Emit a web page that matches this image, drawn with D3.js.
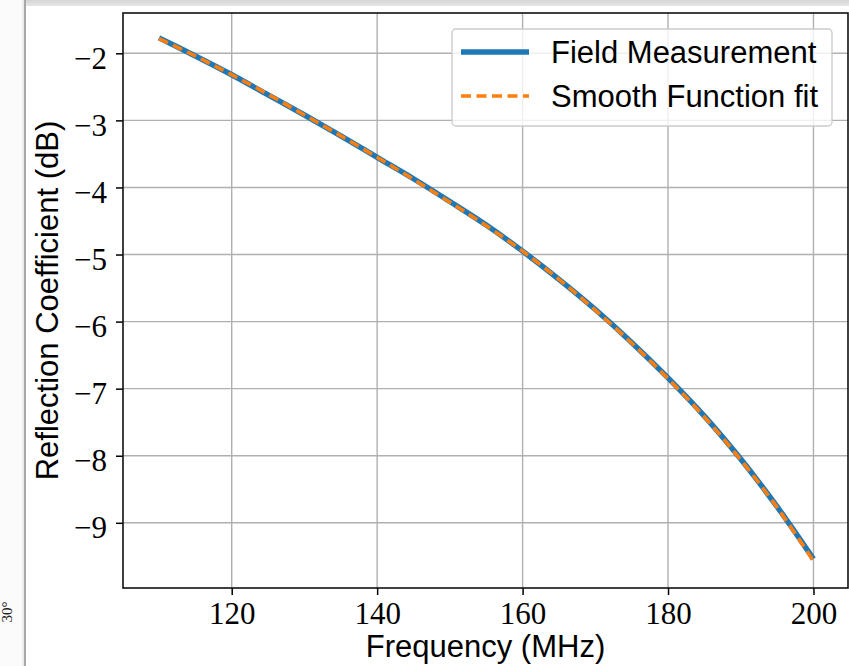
<!DOCTYPE html>
<html>
<head>
<meta charset="utf-8">
<script src="https://cdn.jsdelivr.net/npm/d3@7"></script>
<style>
  body { margin: 0; background: #fff; }
  svg { display: block; }
</style>
</head>
<body>
<script>
// frequency in MHz, reflection coefficient in dB
const freq = [110, 115, 120, 125, 130, 135, 140, 145, 150, 155, 160, 165, 170, 175, 180, 185, 190, 195, 200]
const measured = [-1.77, -2.04, -2.32, -2.62, -2.92, -3.23, -3.55, -3.87, -4.21, -4.56, -4.95, -5.37, -5.82, -6.31, -6.84, -7.41, -8.05, -8.76, -9.54]
const fitted = [-1.78, -2.04, -2.32, -2.61, -2.92, -3.23, -3.55, -3.88, -4.22, -4.57, -4.95, -5.37, -5.83, -6.32, -6.85, -7.42, -8.06, -8.77, -9.57]
const xTicks = [120, 140, 160, 180, 200]
const yTicks = [-9, -8, -7, -6, -5, -4, -3, -2]
const seriesNames = ['Field Measurement', 'Smooth Function fit']

let width = 849, height = 666
let plotLeft = 123, plotRight = 848, plotTop = 13, plotBottom = 588

let x = d3.scaleLinear().domain([105.05, 204.75]).range([plotLeft, plotRight])
let y = d3.scaleLinear().domain([-9.972, -1.399]).range([plotBottom, plotTop])

let svg = d3.select('body').append('svg')
  .attr('width', width)
  .attr('height', height)

// screenshot chrome around the figure
svg.append('rect').attr('width', width).attr('height', height).attr('fill', '#fff')
let grad = svg.append('defs').append('linearGradient').attr('id', 'topbar')
  .attr('x1', 0).attr('y1', 0).attr('x2', 0).attr('y2', 1)
grad.append('stop').attr('offset', 0).attr('stop-color', '#d4d4d4')
grad.append('stop').attr('offset', 1).attr('stop-color', '#e6e6e6')
svg.append('rect').attr('x', 26).attr('y', 0).attr('width', width - 26).attr('height', 6).attr('fill', 'url(#topbar)')
svg.append('rect').attr('x', 0).attr('y', 0).attr('width', 24).attr('height', height).attr('fill', '#fbfbfb')
svg.append('rect').attr('x', 24).attr('y', 0).attr('width', 2).attr('height', height).attr('fill', '#a8a8a8')
svg.append('rect').attr('x', 22).attr('y', 0).attr('width', 2).attr('height', height).attr('fill', '#ececec')
svg.append('text')
  .attr('transform', 'translate(12,612) rotate(-90)')
  .attr('text-anchor', 'middle')
  .attr('font-family', 'Liberation Serif')
  .attr('font-size', 15)
  .attr('fill', '#222')
  .text('30°')

// grid
let grid = svg.append('g').attr('stroke', '#b0b0b0').attr('stroke-width', 1.4)
grid.selectAll('.gx').data(xTicks).enter().append('line')
  .attr('x1', d => x(d)).attr('x2', d => x(d))
  .attr('y1', plotTop).attr('y2', plotBottom)
grid.selectAll('.gy').data(yTicks).enter().append('line')
  .attr('x1', plotLeft).attr('x2', plotRight)
  .attr('y1', d => y(d)).attr('y2', d => y(d))

// lines
let line = d3.line().curve(d3.curveCatmullRom.alpha(0.5))
  .x((d, i) => x(freq[i]))
  .y(d => y(d))

svg.append('path')
  .datum(measured)
  .attr('d', line)
  .attr('fill', 'none')
  .attr('stroke', '#1f77b4')
  .attr('stroke-width', 5.5)

svg.append('path')
  .datum(fitted)
  .attr('d', line)
  .attr('fill', 'none')
  .attr('stroke', '#ff7f0e')
  .attr('stroke-width', 3.6)
  .attr('stroke-dasharray', '10,5.5')

// axes
let xAxis = svg.append('g')
  .attr('transform', 'translate(0,' + plotBottom + ')')
  .call(d3.axisBottom(x).tickValues(xTicks).tickSize(7).tickPadding(7).tickFormat(d3.format('d')))
let yAxis = svg.append('g')
  .attr('transform', 'translate(' + plotLeft + ',0)')
  .call(d3.axisLeft(y).tickValues(yTicks).tickSize(7).tickPadding(9).tickFormat(d => '\u2212' + Math.abs(d)))

for (let ax of [xAxis, yAxis]) {
  ax.select('.domain').remove()
  ax.selectAll('.tick line').attr('stroke', '#000').attr('stroke-width', 1.5)
  ax.selectAll('.tick text')
    .attr('font-family', 'Liberation Serif, DejaVu Serif, serif')
    .attr('font-size', 31)
    .attr('fill', '#000')
}
xAxis.selectAll('.tick text').attr('dy', '0.7em')
yAxis.selectAll('.tick text').attr('dy', '0.48em')

// frame
svg.append('rect')
  .attr('x', plotLeft).attr('y', plotTop)
  .attr('width', plotRight - plotLeft).attr('height', plotBottom - plotTop)
  .attr('fill', 'none')
  .attr('stroke', '#111')
  .attr('stroke-width', 1.6)

// axis labels
svg.append('text')
  .attr('x', (plotLeft + plotRight) / 2)
  .attr('y', 657)
  .attr('text-anchor', 'middle')
  .attr('font-family', 'Liberation Sans, Arial, sans-serif')
  .attr('font-size', 31)
  .text('Frequency (MHz)')

svg.append('text')
  .attr('transform', 'translate(58,' + (plotTop + plotBottom) / 2 + ') rotate(-90)')
  .attr('text-anchor', 'middle')
  .attr('font-family', 'Liberation Sans, Arial, sans-serif')
  .attr('font-size', 31)
  .text('Reflection Coefficient (dB)')

// legend
let legend = svg.append('g')
legend.append('rect')
  .attr('x', 452).attr('y', 29)
  .attr('width', 380).attr('height', 97)
  .attr('rx', 4)
  .attr('fill', '#fff').attr('fill-opacity', 0.8)
  .attr('stroke', '#cccccc').attr('stroke-width', 1.4)

let styles = [
  {color: '#1f77b4', width: 5.5, dash: null},
  {color: '#ff7f0e', width: 3.6, dash: '10,5.5'}
]
let items = legend.selectAll('.item').data(seriesNames).enter().append('g')
  .attr('transform', (d, i) => 'translate(0,' + (52 + i * 44) + ')')
items.append('line')
  .attr('x1', 461).attr('x2', 529)
  .attr('stroke', (d, i) => styles[i].color)
  .attr('stroke-width', (d, i) => styles[i].width)
  .attr('stroke-dasharray', (d, i) => styles[i].dash)
items.append('text')
  .attr('x', 551)
  .attr('dy', '0.35em')
  .attr('font-family', 'Liberation Sans, Arial, sans-serif')
  .attr('font-size', 31)
  .text(d => d)
</script>
</body>
</html>
